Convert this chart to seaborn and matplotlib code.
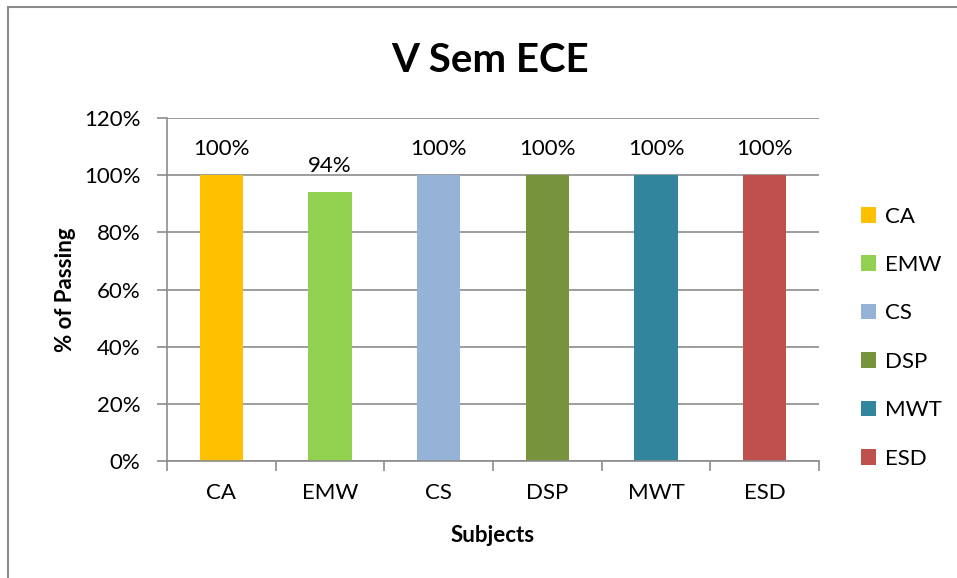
import matplotlib
matplotlib.use("Agg")
import matplotlib.pyplot as plt
from matplotlib.patches import Patch, Rectangle
from matplotlib.ticker import PercentFormatter
import seaborn as sns
import pandas as pd

subjects = ["CA", "EMW", "CS", "DSP", "MWT", "ESD"]
passing = [100, 94, 100, 100, 100, 100]
colors = ["#FFC000", "#92D050", "#95B3D7", "#77933C", "#31859C", "#C0504D"]
y_ticks = [0, 20, 40, 60, 80, 100, 120]

sns.set_theme(style="white")
plt.rcParams["font.family"] = ["Lato", "DejaVu Sans"]
plt.rcParams["text.color"] = "black"
plt.rcParams["axes.labelcolor"] = "black"

df = pd.DataFrame({"Subject": subjects, "Pass": passing})

fig = plt.figure(figsize=(9.57, 5.78), dpi=100)
ax = fig.add_axes([0.1745, 0.2024, 0.6813, 0.5934])

sns.barplot(data=df, x="Subject", y="Pass", hue="Subject", palette=colors,
            order=subjects, hue_order=subjects, dodge=False, width=0.4,
            legend=False, ax=ax, saturation=1, linewidth=0)

ax.set_ylim(0, 120)
ax.set_xlim(-0.5, len(subjects) - 0.5)
ax.set_yticks(y_ticks)
ax.yaxis.set_major_formatter(PercentFormatter(decimals=0))
ax.grid(axis="y", color="#8c8c8c", linewidth=1.2)
ax.set_axisbelow(True)

for side in ["top", "right"]:
    ax.spines[side].set_visible(False)
for side in ["left", "bottom"]:
    ax.spines[side].set_color("#8c8c8c")
    ax.spines[side].set_linewidth(1.2)

# category separators as minor ticks on the x axis
ax.set_xticks([i - 0.5 for i in range(len(subjects) + 1)], minor=True)
ax.tick_params(axis="x", which="minor", length=7, width=1.2, color="#8c8c8c", direction="out", bottom=True)
ax.tick_params(axis="x", which="major", length=0, labelsize=16, pad=16, colors="black")
ax.tick_params(axis="y", which="major", length=7, width=1.2, color="#8c8c8c", direction="out",
               left=True, labelsize=16, pad=12, colors="black")

for i, v in enumerate(passing):
    ax.annotate(f"{v}%", (i, v), xytext=(0, 19), textcoords="offset points",
                ha="center", va="center", fontsize=16, color="black")

ax.set_xlabel("Subjects", fontsize=16, fontweight="bold", labelpad=16)
ax.set_ylabel("% of Passing", fontsize=16, fontweight="bold", labelpad=6)

fig.suptitle("V Sem ECE", x=0.512, y=0.927, fontsize=29, fontweight="bold")

handles = [Patch(facecolor=c, edgecolor="none", label=s) for s, c in zip(subjects, colors)]
fig.legend(handles=handles, loc="upper left", bbox_to_anchor=(0.89, 0.658), frameon=False,
           fontsize=16, handlelength=0.7, handleheight=0.7, handletextpad=0.4,
           labelspacing=1.28, borderaxespad=0)

fig.patches.append(Rectangle((8 / 957, -0.1), 1.2, 1 - 7 / 578 + 0.1, transform=fig.transFigure,
                             fill=False, edgecolor="#8c8c8c", linewidth=1.5))

fig.savefig("out.png", dpi=100)
